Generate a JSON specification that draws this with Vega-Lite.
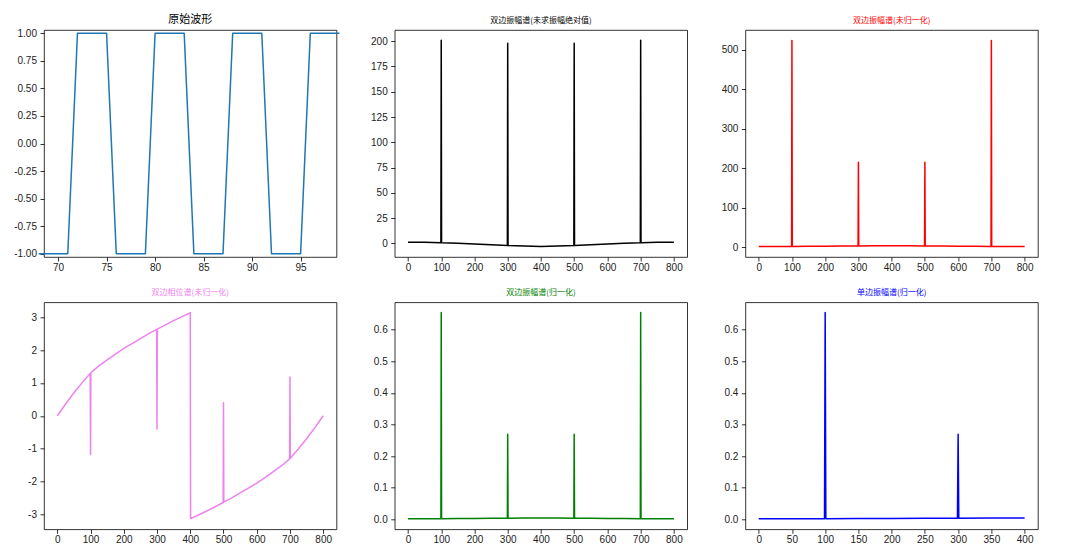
{
  "$schema": "https://vega.github.io/schema/vega-lite/v6.json",
  "background": "white",
  "padding": {"left": 13, "top": 13, "right": 2, "bottom": 0},
  "bounds": "flush",
  "columns": 3,
  "spacing": {"column": 57.7, "row": 45.3},
  "config": {
    "font": "Noto Sans CJK SC",
    "locale": {"number": {"decimal": ".", "thousands": ",", "grouping": [3], "currency": ["$", ""], "minus": "-"}},
    "view": {"stroke": "#000", "strokeWidth": 0.8},
    "axis": {
      "grid": false, "domain": false, "title": null,
      "tickColor": "#000", "tickWidth": 0.8, "tickSize": 4,
      "labelColor": "#222", "labelFontSize": 10, "labelFont": "Liberation Sans",
      "labelFlush": false, "labelOverlap": false
    },
    "axisX": {"labelPadding": 1.5},
    "axisY": {"labelPadding": 3.5},
    "title": {"fontSize": 8, "fontWeight": "normal", "offset": 5, "anchor": "middle", "font": "Noto Sans CJK SC"},
    "line": {"strokeWidth": 1.5, "clip": true, "strokeJoin": "round"}
  },
  "datasets": {
    "wave": [
      {"n": 68, "v": -1}, {"n": 69, "v": -1}, {"n": 70, "v": -1}, {"n": 71, "v": -1},
      {"n": 72, "v": 1}, {"n": 73, "v": 1}, {"n": 74, "v": 1}, {"n": 75, "v": 1},
      {"n": 76, "v": -1}, {"n": 77, "v": -1}, {"n": 78, "v": -1}, {"n": 79, "v": -1},
      {"n": 80, "v": 1}, {"n": 81, "v": 1}, {"n": 82, "v": 1}, {"n": 83, "v": 1},
      {"n": 84, "v": -1}, {"n": 85, "v": -1}, {"n": 86, "v": -1}, {"n": 87, "v": -1},
      {"n": 88, "v": 1}, {"n": 89, "v": 1}, {"n": 90, "v": 1}, {"n": 91, "v": 1},
      {"n": 92, "v": -1}, {"n": 93, "v": -1}, {"n": 94, "v": -1}, {"n": 95, "v": -1},
      {"n": 96, "v": 1}, {"n": 97, "v": 1}, {"n": 98, "v": 1}, {"n": 99, "v": 1}
    ],
    "re": [
      {"k": 0, "v": 1.2}, {"k": 50, "v": 1.0}, {"k": 99, "v": 0.6}, {"k": 100, "v": 200.9}, {"k": 101, "v": 0.6},
      {"k": 150, "v": 0.0}, {"k": 200, "v": -0.7}, {"k": 250, "v": -1.4}, {"k": 299, "v": -2.0}, {"k": 300, "v": 198.0},
      {"k": 301, "v": -2.0}, {"k": 350, "v": -2.7}, {"k": 400, "v": -3.2}, {"k": 450, "v": -2.7}, {"k": 499, "v": -2.0},
      {"k": 500, "v": 198.0}, {"k": 501, "v": -2.0}, {"k": 550, "v": -1.4}, {"k": 600, "v": -0.7}, {"k": 650, "v": 0.0},
      {"k": 699, "v": 0.6}, {"k": 700, "v": 200.9}, {"k": 701, "v": 0.6}, {"k": 750, "v": 1.0}, {"k": 800, "v": 1.2}
    ],
    "amp": [
      {"k": 0, "v": 1.2}, {"k": 50, "v": 1.4}, {"k": 99, "v": 1.7}, {"k": 100, "v": 523}, {"k": 101, "v": 1.7},
      {"k": 150, "v": 2.0}, {"k": 200, "v": 2.3}, {"k": 250, "v": 2.6}, {"k": 299, "v": 2.8}, {"k": 300, "v": 215},
      {"k": 301, "v": 2.8}, {"k": 350, "v": 3.0}, {"k": 400, "v": 3.2}, {"k": 450, "v": 3.0}, {"k": 499, "v": 2.8},
      {"k": 500, "v": 215}, {"k": 501, "v": 2.8}, {"k": 550, "v": 2.6}, {"k": 600, "v": 2.3}, {"k": 650, "v": 2.0},
      {"k": 699, "v": 1.7}, {"k": 700, "v": 523}, {"k": 701, "v": 1.7}, {"k": 750, "v": 1.4}, {"k": 800, "v": 1.2}
    ],
    "phase": [
      {"k": 0, "v": 0}, {"k": 25, "v": 0.36}, {"k": 50, "v": 0.70}, {"k": 75, "v": 1.01}, {"k": 99, "v": 1.29},
      {"k": 100, "v": -1.18}, {"k": 101, "v": 1.31}, {"k": 125, "v": 1.52}, {"k": 150, "v": 1.70}, {"k": 175, "v": 1.88},
      {"k": 200, "v": 2.05}, {"k": 225, "v": 2.20}, {"k": 250, "v": 2.35}, {"k": 275, "v": 2.50},
      {"k": 299, "v": 2.63}, {"k": 300, "v": -0.40}, {"k": 301, "v": 2.64}, {"k": 325, "v": 2.77}, {"k": 350, "v": 2.90},
      {"k": 375, "v": 3.02}, {"k": 399, "v": 3.13},
      {"k": 400, "v": 3.1416}, {"k": 401, "v": -3.13}, {"k": 425, "v": -3.02}, {"k": 450, "v": -2.90}, {"k": 475, "v": -2.77},
      {"k": 499, "v": -2.64}, {"k": 500, "v": 0.40},
      {"k": 501, "v": -2.63}, {"k": 525, "v": -2.50}, {"k": 550, "v": -2.35}, {"k": 575, "v": -2.20}, {"k": 600, "v": -2.05},
      {"k": 625, "v": -1.88}, {"k": 650, "v": -1.70}, {"k": 675, "v": -1.52}, {"k": 699, "v": -1.31},
      {"k": 700, "v": 1.18}, {"k": 701, "v": -1.29}, {"k": 725, "v": -1.01}, {"k": 750, "v": -0.70}, {"k": 775, "v": -0.36},
      {"k": 800, "v": 0}
    ],
    "norm": [
      {"k": 0, "v": 0.0015}, {"k": 50, "v": 0.0018}, {"k": 99, "v": 0.0021}, {"k": 100, "v": 0.654}, {"k": 101, "v": 0.0021},
      {"k": 150, "v": 0.0025}, {"k": 200, "v": 0.0029}, {"k": 250, "v": 0.0033}, {"k": 299, "v": 0.0035}, {"k": 300, "v": 0.269},
      {"k": 301, "v": 0.0035}, {"k": 350, "v": 0.0038}, {"k": 400, "v": 0.004}, {"k": 450, "v": 0.0038}, {"k": 499, "v": 0.0035},
      {"k": 500, "v": 0.269}, {"k": 501, "v": 0.0035}, {"k": 550, "v": 0.0033}, {"k": 600, "v": 0.0029}, {"k": 650, "v": 0.0025},
      {"k": 699, "v": 0.0021}, {"k": 700, "v": 0.654}, {"k": 701, "v": 0.0021}, {"k": 750, "v": 0.0018}, {"k": 800, "v": 0.0015}
    ],
    "single": [
      {"k": 0, "v": 0.0015}, {"k": 50, "v": 0.0018}, {"k": 99, "v": 0.0021}, {"k": 100, "v": 0.654}, {"k": 101, "v": 0.0021},
      {"k": 150, "v": 0.0025}, {"k": 200, "v": 0.0029}, {"k": 250, "v": 0.0033}, {"k": 299, "v": 0.0035}, {"k": 300, "v": 0.269},
      {"k": 301, "v": 0.0035}, {"k": 350, "v": 0.0038}, {"k": 400, "v": 0.004}
    ]
  },
  "concat": [
    {
      "width": 292.5, "height": 227,
      "title": {"text": "原始波形", "fontSize": 11, "color": "#000", "offset": 3},
      "data": {"name": "wave"},
      "mark": {"type": "line", "color": "#1f77b4"},
      "encoding": {
        "x": {"field": "n", "type": "quantitative", "scale": {"domain": [68.55, 98.7], "nice": false, "zero": false},
              "axis": {"values": [70, 75, 80, 85, 90, 95]}},
        "y": {"field": "v", "type": "quantitative", "scale": {"domain": [-1.03, 1.03], "nice": false, "zero": false},
              "axis": {"values": [-1, -0.75, -0.5, -0.25, 0, 0.25, 0.5, 0.75, 1], "format": ".2f"}}
      }
    },
    {
      "width": 292.5, "height": 227,
      "title": {"text": "双边振幅谱(未求振幅绝对值)", "color": "#000"},
      "data": {"name": "re"},
      "mark": {"type": "line", "color": "#000"},
      "encoding": {
        "x": {"field": "k", "type": "quantitative", "scale": {"domain": [-40, 840], "nice": false, "zero": false},
              "axis": {"values": [0, 100, 200, 300, 400, 500, 600, 700, 800]}},
        "y": {"field": "v", "type": "quantitative", "scale": {"domain": [-13.5, 211.1], "nice": false, "zero": false},
              "axis": {"values": [0, 25, 50, 75, 100, 125, 150, 175, 200]}}
      }
    },
    {
      "width": 292.5, "height": 227,
      "title": {"text": "双边振幅谱(未归一化)", "color": "red"},
      "data": {"name": "amp"},
      "mark": {"type": "line", "color": "red"},
      "encoding": {
        "x": {"field": "k", "type": "quantitative", "scale": {"domain": [-40, 840], "nice": false, "zero": false},
              "axis": {"values": [0, 100, 200, 300, 400, 500, 600, 700, 800]}},
        "y": {"field": "v", "type": "quantitative", "scale": {"domain": [-25.2, 549.6], "nice": false, "zero": false},
              "axis": {"values": [0, 100, 200, 300, 400, 500]}}
      }
    },
    {
      "width": 292.5, "height": 227,
      "title": {"text": "双边相位谱(未归一化)", "color": "violet"},
      "data": {"name": "phase"},
      "mark": {"type": "line", "color": "violet"},
      "encoding": {
        "x": {"field": "k", "type": "quantitative", "scale": {"domain": [-40, 840], "nice": false, "zero": false},
              "axis": {"values": [0, 100, 200, 300, 400, 500, 600, 700, 800]}},
        "y": {"field": "v", "type": "quantitative", "scale": {"domain": [-3.456, 3.456], "nice": false, "zero": false},
              "axis": {"values": [-3, -2, -1, 0, 1, 2, 3]}}
      }
    },
    {
      "width": 292.5, "height": 227,
      "title": {"text": "双边振幅谱(归一化)", "color": "green"},
      "data": {"name": "norm"},
      "mark": {"type": "line", "color": "green"},
      "encoding": {
        "x": {"field": "k", "type": "quantitative", "scale": {"domain": [-40, 840], "nice": false, "zero": false},
              "axis": {"values": [0, 100, 200, 300, 400, 500, 600, 700, 800]}},
        "y": {"field": "v", "type": "quantitative", "scale": {"domain": [-0.0316, 0.6865], "nice": false, "zero": false},
              "axis": {"values": [0, 0.1, 0.2, 0.3, 0.4, 0.5, 0.6], "format": ".1f"}}
      }
    },
    {
      "width": 292.5, "height": 227,
      "title": {"text": "单边振幅谱(归一化)", "color": "blue"},
      "data": {"name": "single"},
      "mark": {"type": "line", "color": "blue"},
      "encoding": {
        "x": {"field": "k", "type": "quantitative", "scale": {"domain": [-20, 420], "nice": false, "zero": false},
              "axis": {"values": [0, 50, 100, 150, 200, 250, 300, 350, 400]}},
        "y": {"field": "v", "type": "quantitative", "scale": {"domain": [-0.0316, 0.6865], "nice": false, "zero": false},
              "axis": {"values": [0, 0.1, 0.2, 0.3, 0.4, 0.5, 0.6], "format": ".1f"}}
      }
    }
  ]
}
